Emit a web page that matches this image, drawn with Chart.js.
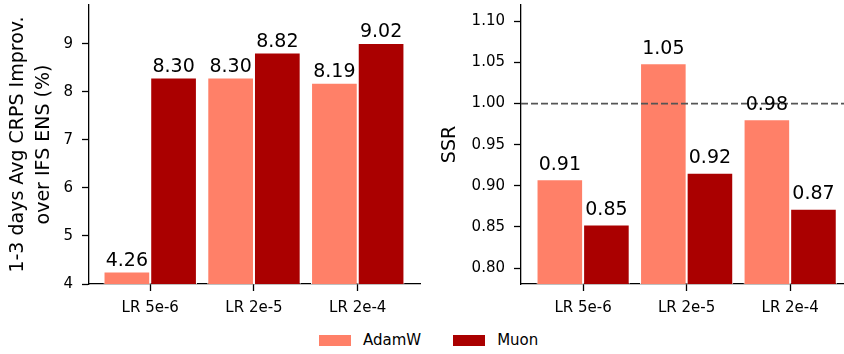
<!DOCTYPE html>
<html>
<head>
<meta charset="utf-8">
<script src="https://cdn.jsdelivr.net/npm/chart.js@4/dist/chart.umd.min.js"></script>
<style>
  html, body { margin: 0; padding: 0; background: #fff; }
  #wrap { position: relative; width: 844px; height: 354px; overflow: hidden; font-family: "DejaVu Sans", sans-serif; }
  #crps { position: absolute; left: 0; top: 0; }
  #ssr { position: absolute; left: 422px; top: 0; }
  #legend { position: absolute; left: 319px; top: 331px; display: flex; align-items: center; font-size: 15px; color: #000; white-space: nowrap; }
  #legend .item { display: flex; align-items: center; margin-right: 32px; }
  #legend .swatch { width: 32px; height: 11px; margin-right: 12px; }
</style>
</head>
<body>
<div id="wrap">
  <canvas id="crps" width="422" height="320"></canvas>
  <canvas id="ssr" width="422" height="320"></canvas>
  <div id="legend"></div>
</div>
<script>
// Learning-rate settings on the x axis
const CATEGORIES = ['LR 5e-6', 'LR 2e-5', 'LR 2e-4'];
const SERIES_NAMES = ['AdamW', 'Muon'];
const SERIES_COLORS = ['#FF8068', '#AA0000'];

// 1-3 day averaged CRPS improvement over IFS ENS (%)
const CRPS_ADAMW = [4.26, 8.30, 8.19];
const CRPS_MUON = [8.30, 8.82, 9.02];
const CRPS_TICKS = [4, 5, 6, 7, 8, 9];

// Spread-skill ratio
const SSR_ADAMW = [0.908, 1.049, 0.981];
const SSR_MUON = [0.853, 0.916, 0.872];
const SSR_TICKS = [0.80, 0.85, 0.90, 0.95, 1.00, 1.05, 1.10];
const SSR_REFERENCE = 1.0;

Chart.defaults.font.family = '"DejaVu Sans", sans-serif';
Chart.defaults.color = '#000';
Chart.defaults.animation = false;

const points = (vals) => vals.map((v, i) => ({ x: i, y: v }));

function makeDatasets(a, b) {
  return [a, b].map((vals, k) => ({
    label: SERIES_NAMES[k],
    data: points(vals),
    backgroundColor: SERIES_COLORS[k],
    borderColor: '#fff',
    borderWidth: 1,
    borderSkipped: false,
    categoryPercentage: 0.9,
    barPercentage: 1.0
  }));
}

// value labels above each bar
const valueLabels = {
  id: 'valueLabels',
  afterDatasetsDraw(chart, args, opts) {
    const ctx = chart.ctx;
    ctx.save();
    ctx.font = '19px "DejaVu Sans"';
    ctx.fillStyle = '#000';
    ctx.textAlign = 'center';
    ctx.textBaseline = 'alphabetic';
    chart.data.datasets.forEach((ds, di) => {
      chart.getDatasetMeta(di).data.forEach((el, i) => {
        ctx.fillText(ds.data[i].y.toFixed(2), el.x, el.y - opts.gap);
      });
    });
    ctx.restore();
  }
};

// dashed horizontal reference line
const referenceLine = {
  id: 'referenceLine',
  afterDatasetsDraw(chart, args, opts) {
    if (opts.value === undefined) return;
    const { ctx, chartArea, scales } = chart;
    const y = scales.y.getPixelForValue(opts.value);
    ctx.save();
    ctx.strokeStyle = '#555';
    ctx.lineWidth = 1.7;
    ctx.setLineDash([7, 3]);
    ctx.beginPath();
    ctx.moveTo(chartArea.left, y);
    ctx.lineTo(chartArea.right + 10, y);
    ctx.stroke();
    ctx.restore();
  }
};

function makeChart(canvasId, datasets, cfg) {
  return new Chart(document.getElementById(canvasId), {
    type: 'bar',
    data: { datasets },
    plugins: [referenceLine, valueLabels],
    options: {
      responsive: false,
      layout: { padding: { top: 5, right: cfg.padRight, left: 0, bottom: 0 } },
      plugins: {
        legend: { display: false },
        tooltip: { enabled: false },
        referenceLine: { value: cfg.reference },
        valueLabels: { gap: cfg.labelGap }
      },
      scales: {
        x: {
          type: 'linear',
          offset: false,
          min: cfg.xMin,
          max: cfg.xMax,
          afterBuildTicks: (s) => { s.ticks = CATEGORIES.map((_, i) => ({ value: i })); },
          afterFit: (s) => { s.height = 36; s.paddingLeft = 0; s.paddingRight = 0; },
          ticks: {
            font: { size: 15 },
            padding: 8,
            autoSkip: false,
            maxRotation: 0,
            callback: (v) => CATEGORIES[v]
          },
          grid: { display: true, drawOnChartArea: false, tickLength: 7, tickWidth: 1.3, tickColor: '#000', offset: false },
          border: { display: true, color: '#000', width: 1.3 }
        },
        y: {
          min: cfg.yMin,
          max: cfg.yMax,
          afterBuildTicks: (s) => { s.ticks = cfg.yTicks.map((v) => ({ value: v })); },
          afterFit: (s) => { s.width = cfg.yWidth; s.paddingTop = 0; s.paddingBottom = 0; },
          ticks: {
            font: { size: 15 },
            padding: 9,
            callback: (v) => cfg.yFormat(v)
          },
          title: {
            display: true,
            text: cfg.title,
            font: { size: 19, lineHeight: 1.37 },
            padding: { top: cfg.titlePad, bottom: 0 }
          },
          grid: { display: true, drawOnChartArea: false, tickLength: 7, tickWidth: 1.3, tickColor: '#000' },
          border: { display: true, color: '#000', width: 1.3 }
        }
      }
    }
  });
}

makeChart('crps', makeDatasets(CRPS_ADAMW, CRPS_MUON), {
  padRight: 2,
  xMin: -0.59, xMax: 2.6,
  yMin: 4, yMax: 9.81,
  yTicks: CRPS_TICKS,
  yFormat: (v) => String(v),
  yWidth: 89,
  title: ['1-3 days Avg CRPS Improv.', 'over IFS ENS (%)'],
  titlePad: 5,
  labelGap: 6,
  reference: undefined
});

makeChart('ssr', makeDatasets(SSR_ADAMW, SSR_MUON), {
  padRight: 0,
  xMin: -0.6, xMax: 2.52,
  yMin: 0.7806, yMax: 1.1198,
  yTicks: SSR_TICKS,
  yFormat: (v) => v.toFixed(2),
  yWidth: 99,
  title: 'SSR',
  titlePad: 15,
  labelGap: 9.5,
  reference: SSR_REFERENCE
});

// legend shared by both panels
const legend = document.getElementById('legend');
SERIES_NAMES.forEach((name, k) => {
  const item = document.createElement('div');
  item.className = 'item';
  const sw = document.createElement('span');
  sw.className = 'swatch';
  sw.style.background = SERIES_COLORS[k];
  const label = document.createElement('span');
  label.textContent = name;
  item.appendChild(sw);
  item.appendChild(label);
  legend.appendChild(item);
});
</script>
</body>
</html>
